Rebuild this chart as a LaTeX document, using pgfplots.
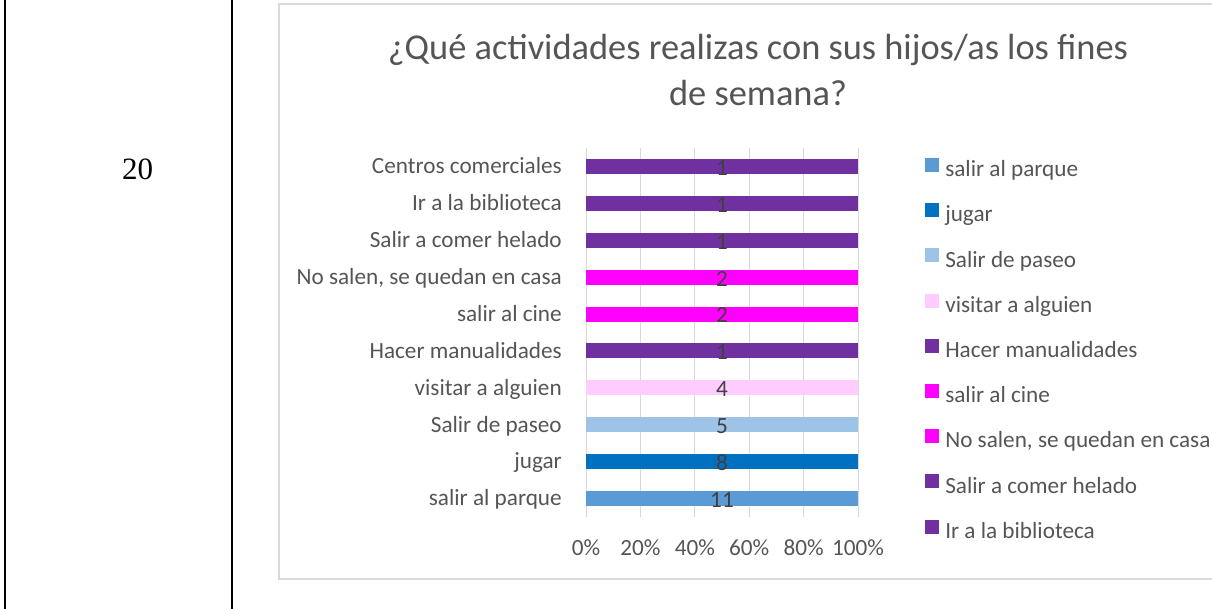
\documentclass[border=0pt]{standalone}
\usepackage{pgfplots}
\pgfplotsset{compat=1.18}
\usepackage{fontspec}
\setmainfont{Carlito}
\newfontfamily\timesfont{Liberation Serif}
\definecolor{cParque}{HTML}{5B9BD5}
\definecolor{cJugar}{HTML}{0070C0}
\definecolor{cPaseo}{HTML}{9DC3E6}
\definecolor{cVisitar}{HTML}{FFCCFF}
\definecolor{cMorado}{HTML}{7030A0}
\definecolor{cRosa}{HTML}{FF00FF}
\definecolor{txt}{HTML}{555555}
\definecolor{lbl}{HTML}{404040}
\definecolor{grd}{HTML}{D9D9D9}
\newcommand{\lblfont}{\fontsize{17.4}{20}\selectfont}
\begin{document}
\begin{tikzpicture}[x=0.75pt,y=0.75pt]
\useasboundingbox (0,0) rectangle (1212,609);
\clip (0,0) rectangle (1212,609);
\draw[black, line width=1.5pt] (5,-5) -- (5,615);
\draw[black, line width=1.5pt] (232,-5) -- (232,615);
\node[anchor=base, inner sep=0pt, font=\timesfont\fontsize{23.25}{28}\selectfont] at (137.5,429) {20};
\draw[grd, line width=0.9pt] (279,30) rectangle (1240,605);
\node[anchor=base, inner sep=0pt, text=txt, font=\fontsize{27.3}{32}\selectfont] at (758,549) {¿Qué actividades realizas con sus hijos/as los fines};
\node[anchor=base, inner sep=0pt, text=txt, font=\fontsize{27.3}{32}\selectfont] at (758,503) {de semana?};
\begin{axis}[
  at={(439.5pt,69pt)}, anchor=south west,
  width=204pt, height=276.75pt, scale only axis,
  xmin=0, xmax=100, ymin=-0.5, ymax=9.5,
  xbar,
  every axis plot/.append style={bar shift=0pt, bar width=11.25pt, draw=none},
  xtick={0,20,40,60,80,100},
  xticklabels={0\%,20\%,40\%,60\%,80\%,100\%},
  ytick={0,1,2,3,4,5,6,7,8,9},
  yticklabels={salir al parque, jugar, Salir de paseo, visitar a alguien, Hacer manualidades, salir al cine, {No salen, se quedan en casa}, Salir a comer helado, Ir a la biblioteca, Centros comerciales},
  xmajorgrids, grid style={grd, line width=0.75pt},
  axis line style={draw=none}, major tick length=0pt,
  tick label style={font=\lblfont, text=txt},
  xticklabel style={anchor=base, yshift=-29.25pt, inner sep=0pt},
  yticklabel style={anchor=base east, xshift=-18pt, yshift=-5.5pt, inner sep=0pt},
  nodes near coords, point meta=explicit symbolic,
  every node near coord/.append style={anchor=center, xshift=-102pt, yshift=-1pt, text=lbl, font=\lblfont, inner sep=0pt},
  legend style={at={(axis description cs:1.2463,0.9736)}, anchor=north west, draw=none, fill=none, inner sep=0pt, row sep=15.9pt, column sep=4.5pt, font=\lblfont, text=txt, nodes={inner sep=0pt, text height=12pt, text depth=4pt}},
  legend cell align=left,
  legend image code/.code={\fill[#1] (0pt,-0.5pt) rectangle (10.5pt,10pt);},
]
\addplot[fill=cParque] coordinates {(100,0) [11]};
\addlegendentry{salir al parque}
\addplot[fill=cJugar] coordinates {(100,1) [8]};
\addlegendentry{jugar}
\addplot[fill=cPaseo] coordinates {(100,2) [5]};
\addlegendentry{Salir de paseo}
\addplot[fill=cVisitar] coordinates {(100,3) [4]};
\addlegendentry{visitar a alguien}
\addplot[fill=cMorado] coordinates {(100,4) [1]};
\addlegendentry{Hacer manualidades}
\addplot[fill=cRosa] coordinates {(100,5) [2]};
\addlegendentry{salir al cine}
\addplot[fill=cRosa] coordinates {(100,6) [2]};
\addlegendentry{No salen, se quedan en casa}
\addplot[fill=cMorado] coordinates {(100,7) [1]};
\addlegendentry{Salir a comer helado}
\addplot[fill=cMorado] coordinates {(100,8) [1]};
\addlegendentry{Ir a la biblioteca}
\addplot[fill=cMorado, forget plot] coordinates {(100,9) [1]};
\end{axis}
\end{tikzpicture}
\end{document}
